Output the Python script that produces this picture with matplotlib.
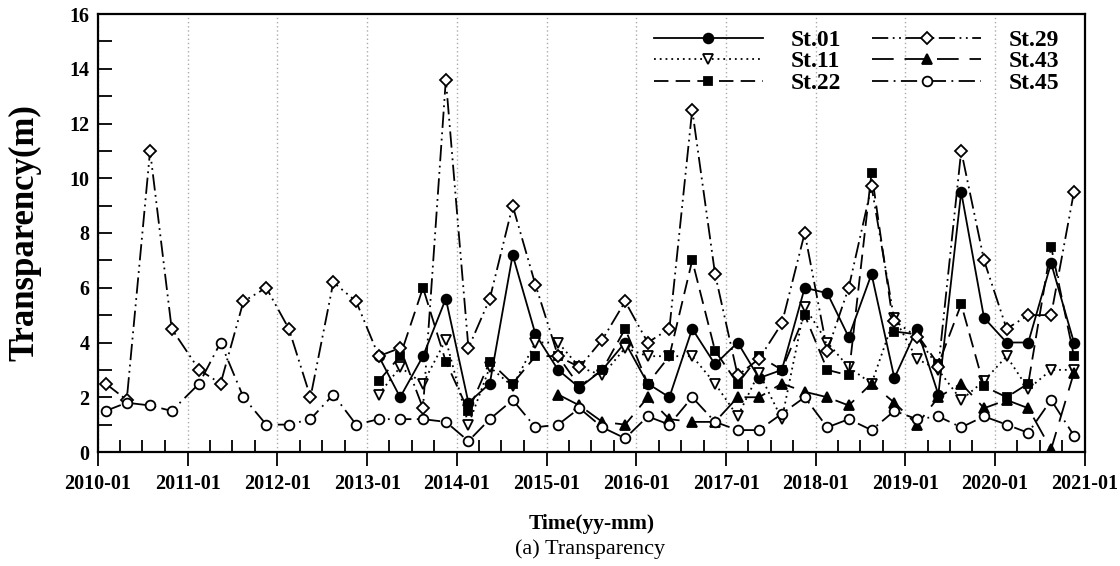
import matplotlib
matplotlib.use("Agg")
import matplotlib.pyplot as plt
import matplotlib.dates as mdates
import numpy as np

plt.rcParams['font.family'] = ['Liberation Serif', 'DejaVu Serif']

# ---- data ----
dates = ['2010-02-01', '2010-04-28', '2010-08-01', '2010-10-28',
         '2011-02-17', '2011-05-15', '2011-08-16', '2011-11-17',
         '2012-02-17', '2012-05-15', '2012-08-16', '2012-11-17',
         '2013-02-17', '2013-05-15', '2013-08-16', '2013-11-17',
         '2014-02-17', '2014-05-15', '2014-08-16', '2014-11-17',
         '2015-02-17', '2015-05-15', '2015-08-16', '2015-11-17',
         '2016-02-17', '2016-05-15', '2016-08-16', '2016-11-17',
         '2017-02-17', '2017-05-15', '2017-08-16', '2017-11-17',
         '2018-02-17', '2018-05-15', '2018-08-16', '2018-11-17',
         '2019-02-17', '2019-05-15', '2019-08-16', '2019-11-17',
         '2020-02-17', '2020-05-15', '2020-08-16', '2020-11-17']

st01 = [3.5, 2.0, 3.5, 5.6,
        1.8, 2.5, 7.2, 4.3,
        3.0, 2.35, 3.0, 4.0,
        2.5, 2.0, 4.5, 3.2,
        4.0, 2.7, 3.0, 6.0,
        5.8, 4.2, 6.5, 2.7,
        4.5, 2.1, 9.5, 4.9,
        4.0, 4.0, 6.9, 4.0]

st11 = [2.1, 3.1, 2.5, 4.1,
        1.0, 3.1, 2.4, 4.0,
        4.0, 3.1, 2.8, 3.8,
        3.5, 3.5, 3.5, 2.5,
        1.3, 2.9, 1.2, 5.3,
        4.0, 3.1, 2.5, 4.9,
        3.4, 3.0, 1.9, 2.6,
        3.5, 2.3, 3.0, 3.0]

st22 = [2.6, 3.5, 6.0, 3.3,
        1.5, 3.3, 2.5, 3.5,
        3.5, 2.4, 3.0, 4.5,
        2.5, 3.5, 7.0, 3.7,
        2.5, 3.5, 3.0, 5.0,
        3.0, 2.8, 10.2, 4.4,
        4.3, 3.2, 5.4, 2.4,
        2.0, 2.5, 7.5, 3.5]

st29 = [2.5, 1.9, 11.0, 4.5,
        3.0, 2.5, 5.5, 6.0,
        4.5, 2.0, 6.2, 5.5,
        3.5, 3.8, 1.6, 13.6,
        3.8, 5.6, 9.0, 6.1,
        3.5, 3.1, 4.1, 5.5,
        4.0, 4.5, 12.5, 6.5,
        2.8, 3.4, 4.7, 8.0,
        3.7, 6.0, 9.7, 4.8,
        4.2, 3.1, 11.0, 7.0,
        4.5, 5.0, 5.0, 9.5]

st43 = [2.1, 1.7, 1.1, 1.0,
        2.0, 1.2, 1.1, 1.1,
        2.0, 2.0, 2.5, 2.2,
        2.0, 1.7, 2.5, 1.8,
        1.0, 2.0, 2.5, 1.6,
        1.9, 1.6, 0.1, 2.9]

st45 = [1.5, 1.8, 1.7, 1.5,
        2.5, 4.0, 2.0, 1.0,
        1.0, 1.2, 2.1, 1.0,
        1.2, 1.2, 1.2, 1.1,
        0.4, 1.2, 1.9, 0.9,
        1.0, 1.6, 0.9, 0.5,
        1.3, 1.0, 2.0, 1.1,
        0.8, 0.8, 1.4, 2.0,
        0.9, 1.2, 0.8, 1.5,
        1.2, 1.3, 0.9, 1.3,
        1.0, 0.7, 1.9, 0.6]

x_all = np.array(dates, dtype='datetime64[D]')

fig = plt.figure(figsize=(11.2, 5.66), dpi=100)
ax = fig.add_axes([98 / 1120, 1 - 452 / 566, (1085 - 98) / 1120, (452 - 14) / 566])

lw = 1.3
series = [
    ('St.01', x_all[-len(st01):], st01, dict(ls='-', marker='o', mfc='black', ms=7)),
    ('St.11', x_all[-len(st11):], st11, dict(ls=(0, (1, 2.2)), marker='v', mfc='white', ms=7)),
    ('St.22', x_all[-len(st22):], st22, dict(ls=(0, (8, 4)), marker='s', mfc='black', ms=6)),
    ('St.29', x_all[-len(st29):], st29, dict(ls=(0, (9, 2.5, 1, 2.5, 1, 2.5)), marker='D', mfc='white', ms=6.5)),
    ('St.43', x_all[-len(st43):], st43, dict(ls=(0, (12, 6)), marker='^', mfc='black', ms=6.5)),
    ('St.45', x_all[-len(st45):], st45, dict(ls=(0, (9, 3, 1, 3)), marker='o', mfc='white', ms=7)),
]
for name, xs, ys, kw in series:
    ax.plot(xs, ys, color='black', lw=lw, mec='black', mew=1.3, label=name, **kw)

ax.set_xlim(np.datetime64('2010-01-01'), np.datetime64('2021-01-01'))
ax.set_ylim(0, 16)

ax.xaxis.set_major_locator(mdates.YearLocator())
ax.xaxis.set_major_formatter(mdates.DateFormatter('%Y-%m'))
ax.xaxis.set_minor_locator(mdates.MonthLocator(bymonth=[4, 7, 10]))
ax.set_yticks(np.arange(0, 17, 2))
ax.set_yticks(np.arange(1, 16, 2), minor=True)

ax.tick_params(axis='x', which='major', direction='out', length=10, width=1.3, pad=6)
ax.tick_params(axis='x', which='minor', direction='in', length=9, width=1.3)
ax.tick_params(axis='y', which='both', direction='in', length=10, width=1.3, pad=6)

for lab in ax.get_xticklabels() + ax.get_yticklabels():
    lab.set_fontweight('bold')
    lab.set_fontsize(14.5)

for sp in ax.spines.values():
    sp.set_linewidth(1.6)

ax.grid(axis='x', which='major', color='#aaaaaa', ls=(0, (1, 2)), lw=1.0)

ax.set_ylabel('Transparency(m)', fontsize=25, fontweight='bold')
ax.yaxis.set_label_coords(-0.057, 0.5)
ax.set_xlabel('Time(yy-mm)', fontsize=15.5, fontweight='bold', labelpad=14)
fig.text(0.527, 0.03, '(a) Transparency', ha='center', va='center', fontsize=16)

leg = ax.legend(ncol=2, loc='upper right', bbox_to_anchor=(0.99, 1.0), frameon=False,
                handlelength=4.6, handletextpad=1.2, columnspacing=1.3,
                labelspacing=0.0, borderaxespad=0.25,
                prop={'weight': 'bold', 'size': 17})

fig.savefig('out.png', dpi=100)
